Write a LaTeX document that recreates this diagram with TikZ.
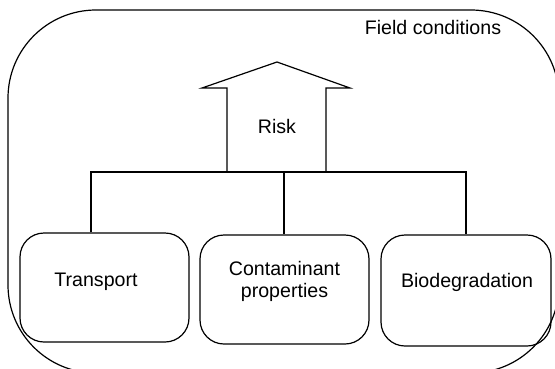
\documentclass[tikz,border=0pt]{standalone}
\usepackage{fontspec}
\setmainfont{Liberation Sans}
\begin{document}
\begin{tikzpicture}[x=1pt,y=-1pt,
  line width=1.2pt,
  boxstyle/.style={draw, rounded corners=24pt, inner sep=0pt},
  lbl/.style={font=\fontsize{19.6}{22}\selectfont, align=center, inner sep=0pt}]
\useasboundingbox (0,0) rectangle (555,368);
\fill[white] (0,0) rectangle (555,368);
\begin{scope}
\clip (0,0) rectangle (555,368);
\draw[rounded corners=88pt] (8,10) rectangle (559,373);
\end{scope}
\node[lbl] (field) at (433,27) {Field conditions};
% risk arrow
\coordinate (tip) at (277,62);
\draw (227,172) -- (227,88) -- (202,88) -- (tip) -- (350,88) -- (326,88) -- (326,172);
\node[lbl] (risk) at (277,126) {Risk};
% boxes
\node[boxstyle, minimum width=169pt, minimum height=109pt] (trans) at (104.5,287.5) {};
\node[boxstyle, minimum width=169pt, minimum height=109pt] (cont) at (284.5,289.5) {};
\node[boxstyle, minimum width=170pt, minimum height=111pt] (biod) at (466,290.5) {};
\node[lbl] (transT) at (96,282) {Transport};
\node[lbl] (contT) at (284.5,281.5) {Contaminant\\properties};
\node[lbl] (biodT) at (467,282) {Biodegradation};
% bus
\coordinate (busL) at (91,172);
\coordinate (busR) at (466,172);
\draw (busL |- trans.north) -- (busL) -- (busR) -- (busR |- biod.north);
\draw (cont.north -| 284,0) -- (284,172);
\end{tikzpicture}
\end{document}
